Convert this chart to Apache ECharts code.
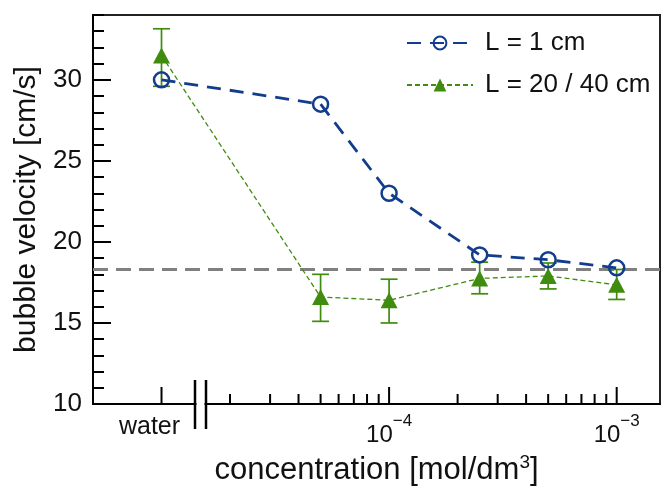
<!DOCTYPE html>
<html><head><meta charset="utf-8">
<script src="https://cdn.jsdelivr.net/npm/echarts@6/dist/echarts.min.js"></script>
<style>html,body{margin:0;padding:0;background:#fff}#c{width:663px;height:494px}</style>
</head><body><div id="c"></div>
<script>
// ---- data ----
const concentrations = [1e-5, 5e-5, 1e-4, 2.5e-4, 5e-4, 1e-3]; // 1e-5 is the "water" position
const velocityL1 = [30.0, 28.5, 23.0, 19.2, 18.9, 18.4];
const velocityL20 = [31.5, 16.6, 16.4, 17.75, 17.9, 17.35];
const errLowL20 = [29.6, 15.1, 15.0, 16.8, 17.1, 16.45];
const errHighL20 = [33.15, 18.0, 17.7, 18.75, 18.7, 18.3];
const referenceVelocity = 18.3;
const xMajorTicks = [1e-5, 1e-4, 1e-3];
const xMinorTicks = [2e-5, 3e-5, 4e-5, 5e-5, 6e-5, 7e-5, 8e-5, 9e-5, 2e-4, 3e-4, 4e-4, 5e-4, 6e-4, 7e-4, 8e-4, 9e-4];
const xTickLabels = { '-5': '{w|water}', '-4': '{b|10}{sup|−4}', '-3': '{b|10}{sup|−3}' };
const seriesNames = ['L = 1 cm', 'L = 20 / 40 cm'];
const X_MIN = 5e-6, X_MAX = 1.55e-3, Y_MIN = 10, Y_MAX = 34;

// ---- styles ----
const FONT = 'Liberation Sans, Arial, Helvetica, sans-serif';
const BLUE = '#123d8c', GREEN = '#3f8c0e', TXT = '#111';

const chart = echarts.init(document.getElementById('c'), null, { renderer: 'canvas' });
const tickData = xMajorTicks.map(v => [v, 1]).concat(xMinorTicks.map(v => [v, 0]));

chart.setOption({
  animation: false,
  backgroundColor: '#fff',
  textStyle: { fontFamily: FONT },
  grid: { left: 93, right: 2, top: 15, bottom: 90, show: true, borderColor: '#222', borderWidth: 2, backgroundColor: 'transparent' },
  legend: {
    data: seriesNames, orient: 'vertical', left: 401, top: 25, itemWidth: 66, itemHeight: 16, itemGap: 16,
    formatter: name => '{t|' + name + '}',
    textStyle: { fontSize: 26, color: TXT, fontFamily: FONT,
      rich: { t: { fontSize: 26, color: TXT, fontFamily: FONT, padding: [0, 0, 0, 7] } } }
  },
  xAxis: {
    type: 'log', logBase: 10, min: X_MIN, max: X_MAX,
    axisLine: { show: true, lineStyle: { color: '#000', width: 2 } },
    axisTick: { show: false }, splitLine: { show: false }, minorTick: { show: false },
    axisLabel: {
      margin: 9, color: TXT, fontFamily: FONT,
      formatter: v => {
        const e = Math.log10(v), k = Math.round(e);
        return Math.abs(e - k) < 1e-6 ? (xTickLabels[String(k)] || '') : '';
      },
      rich: {
        w: { fontSize: 25, color: TXT, padding: [2, 24, 0, 0], lineHeight: 8, verticalAlign: 'top' },
        b: { fontSize: 24, color: TXT, lineHeight: 34, verticalAlign: 'bottom' },
        sup: { fontSize: 17, color: TXT, lineHeight: 16, verticalAlign: 'top' }
      }
    },
    name: 'concentration [mol/dm{sup|3}]', nameLocation: 'middle', nameGap: 49,
    nameTextStyle: {
      fontSize: 31, color: TXT, fontFamily: FONT, lineHeight: 34,
      rich: { sup: { fontSize: 19, color: TXT, verticalAlign: 'top', lineHeight: 12 } }
    }
  },
  yAxis: [
    {
      type: 'value', min: Y_MIN, max: Y_MAX, interval: 5, position: 'left',
      axisLine: { show: true, lineStyle: { color: '#000', width: 2 } },
      axisTick: { inside: true, length: 18, lineStyle: { color: '#000', width: 2 } },
      axisLabel: { fontSize: 26, color: TXT, margin: 11, showMaxLabel: false, fontFamily: FONT },
      splitLine: { show: false },
      name: 'bubble velocity [cm/s]', nameLocation: 'middle', nameGap: 48,
      nameTextStyle: { fontSize: 30, color: TXT, fontFamily: FONT }
    },
    {
      type: 'value', min: Y_MIN, max: Y_MAX, interval: 1, position: 'left',
      axisLine: { show: false },
      axisTick: { inside: true, length: 11, lineStyle: { color: '#000', width: 2 } },
      axisLabel: { show: false }, splitLine: { show: false }
    }
  ],
  series: [
    {
      type: 'line', name: 'reference', z: 1, silent: true, symbol: 'none',
      data: [[X_MIN, referenceVelocity], [X_MAX, referenceVelocity]],
      lineStyle: { color: '#808080', width: 3, type: [15, 8] }
    },
    {
      type: 'custom', name: 'xticks', z: 5, silent: true,
      data: tickData, encode: { x: 0, y: 1 },
      renderItem: (params, api) => {
        const p = api.coord([api.value(0), Y_MIN]);
        const len = api.value(1) ? 17 : 10;
        return { type: 'line', shape: { x1: p[0], y1: p[1], x2: p[0], y2: p[1] - len }, style: { stroke: '#000', lineWidth: 2 } };
      }
    },
    {
      type: 'custom', name: 'errorbars', z: 3, silent: true,
      data: concentrations.map((c, i) => [c, errLowL20[i], errHighL20[i]]),
      encode: { x: 0, y: [1, 2] },
      renderItem: (params, api) => {
        const lo = api.coord([api.value(0), api.value(1)]);
        const hi = api.coord([api.value(0), api.value(2)]);
        const hw = 8.5, st = { stroke: GREEN, lineWidth: 1.7 };
        return { type: 'group', children: [
          { type: 'line', shape: { x1: lo[0], y1: lo[1], x2: hi[0], y2: hi[1] }, style: st },
          { type: 'line', shape: { x1: lo[0] - hw, y1: lo[1], x2: lo[0] + hw, y2: lo[1] }, style: st },
          { type: 'line', shape: { x1: hi[0] - hw, y1: hi[1], x2: hi[0] + hw, y2: hi[1] }, style: st }
        ] };
      }
    },
    {
      type: 'line', name: seriesNames[1], z: 4,
      data: concentrations.map((c, i) => [c, velocityL20[i]]),
      symbol: 'triangle', symbolSize: [17, 16],
      itemStyle: { color: GREEN },
      lineStyle: { color: GREEN, width: 1.3, type: [5, 3] }
    },
    {
      type: 'line', name: seriesNames[0], z: 6,
      data: concentrations.map((c, i) => [c, velocityL1[i]]),
      symbol: 'circle', symbolSize: 15,
      itemStyle: { color: 'rgba(255,255,255,0)', borderColor: BLUE, borderWidth: 2.5 },
      lineStyle: { color: BLUE, width: 2.8, type: [14, 9] }
    }
  ],
  graphic: [
    { type: 'rect', z: 100, shape: { x: 196.5, y: 400, width: 8, height: 8 }, style: { fill: '#fff' } },
    { type: 'line', z: 101, shape: { x1: 195, y1: 380, x2: 195, y2: 429 }, style: { stroke: '#000', lineWidth: 2.5 } },
    { type: 'line', z: 101, shape: { x1: 206, y1: 380, x2: 206, y2: 429 }, style: { stroke: '#000', lineWidth: 2.5 } }
  ]
});
</script></body></html>
